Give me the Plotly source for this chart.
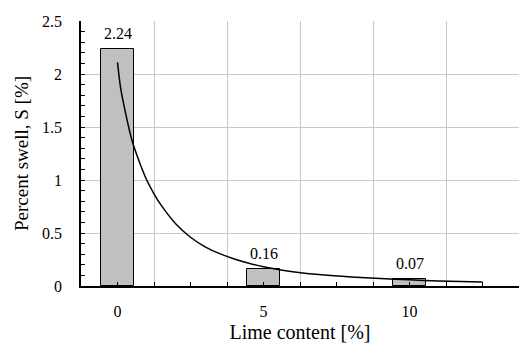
import plotly.graph_objects as go

lime = [0, 5, 10]
swell = [2.24, 0.16, 0.07]
bar_labels = ["2.24", "0.16", "0.07"]

curve_x = [0, 0.1, 0.3, 0.5, 0.75, 1.0, 1.25, 1.5, 2.0, 2.5, 3.0, 3.5, 4.0, 4.5,
           5.0, 5.5, 6.0, 7.0, 8.0, 9.0, 10.0, 11.0, 12.5]
curve_y = [2.11, 1.88, 1.60, 1.37, 1.17, 1.00, 0.87, 0.76, 0.585, 0.46, 0.37, 0.305,
           0.255, 0.215, 0.182, 0.156, 0.135, 0.105, 0.085, 0.07, 0.058, 0.048, 0.037]

x_tickvals = [0, 5, 10]
x_ticktext = ["0", "5", "10"]

FONT = "'Liberation Serif', 'DejaVu Serif', serif"
GRID = "#c8c8c8"

fig = go.Figure()
fig.add_trace(go.Bar(x=lime, y=swell, width=1.16,
                     marker=dict(color="#c0c0c0", line=dict(color="black", width=1)),
                     showlegend=False, hoverinfo="skip"))
fig.add_trace(go.Scatter(x=curve_x, y=curve_y, mode="lines",
                         line=dict(color="black", width=1.5, shape="spline", smoothing=0.6),
                         showlegend=False, hoverinfo="skip"))

for xv, yv, t in zip(lime, swell, bar_labels):
    fig.add_annotation(x=xv, y=yv, text=t, showarrow=False, yanchor="bottom",
                       yshift=5, font=dict(family=FONT, size=16, color="black"))

fig.update_layout(
    width=519, height=347,
    margin=dict(l=81, r=0, t=21, b=61),
    paper_bgcolor="white", plot_bgcolor="white",
    font=dict(family=FONT, size=16, color="black"),
    xaxis=dict(range=[-1.25, 13.75], tickmode="linear", tick0=1.25, dtick=2.5,
               showgrid=True, gridcolor=GRID, gridwidth=1,
               ticks="inside", ticklen=4, tickcolor="black",
               showticklabels=False, showline=True, linecolor="black", linewidth=1.5,
               zeroline=False,
               minor=dict(dtick=1.25, tick0=0, ticks="inside", ticklen=4,
                          tickcolor="black", showgrid=False)),
    xaxis2=dict(overlaying="x", matches="x", side="bottom", anchor="y",
                range=[-1.25, 13.75], tickmode="array", tickvals=x_tickvals,
                ticktext=x_ticktext, ticks="", showgrid=False, showline=False,
                zeroline=False, ticklabelstandoff=14,
                tickfont=dict(family=FONT, size=16),
                title=dict(text="Lime content [%]", font=dict(family=FONT, size=20),
                           standoff=5)),
    yaxis=dict(range=[0, 2.5], tickmode="linear", tick0=0, dtick=0.5,
               showgrid=True, gridcolor=GRID, gridwidth=1,
               ticks="inside", ticklen=4, tickcolor="black",
               showline=True, linecolor="black", linewidth=1.5, zeroline=False,
               ticklabelstandoff=14,
               minor=dict(dtick=0.1, ticks="inside", ticklen=4, tickcolor="black",
                          showgrid=False),
               tickfont=dict(family=FONT, size=16),
               title=dict(text="Percent swell, S [%]", font=dict(family=FONT, size=19),
                          standoff=8)),
    bargap=0,
)
fig.add_trace(go.Scatter(x=[None], y=[None], xaxis="x2", showlegend=False,
                         hoverinfo="skip"))

fig.write_html("out.html")
